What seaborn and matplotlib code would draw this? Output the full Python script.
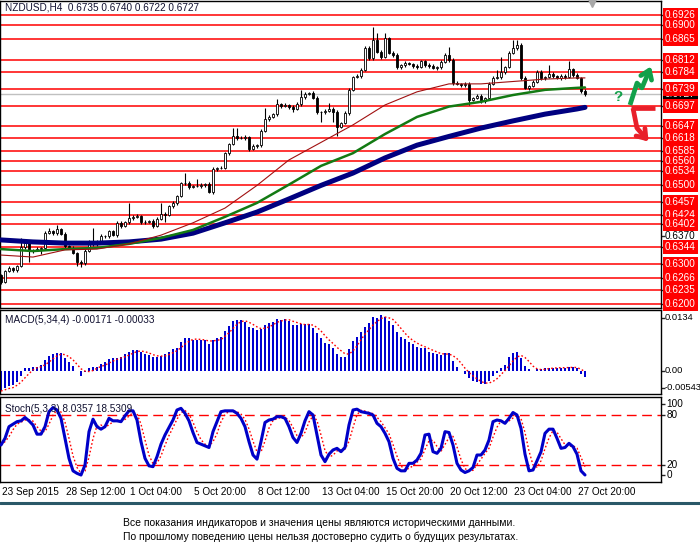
import numpy as np
import pandas as pd
import matplotlib
matplotlib.use("Agg")
import matplotlib.pyplot as plt
import matplotlib.transforms as mtransforms
from matplotlib.lines import Line2D
import seaborn as sns

sns.set_style("white")
plt.rcParams['font.family'] = ['Liberation Sans', 'DejaVu Sans']

# ---------------- data ----------------
title_text = "NZDUSD,H4  0.6735 0.6740 0.6722 0.6727"
first_open = 0.6272
closes = [
    0.6256, 0.6283, 0.6290, 0.6285, 0.6296, 0.6343, 0.6353, 0.6333, 0.6336, 0.6338,
    0.6341, 0.6378, 0.6383, 0.6378, 0.6388, 0.6376, 0.6346, 0.6341, 0.6328, 0.6306,
    0.6303, 0.6333, 0.6358, 0.6351, 0.6356, 0.6371, 0.6371, 0.6383, 0.6373, 0.6404,
    0.6396, 0.6406, 0.6416, 0.6419, 0.6421, 0.6406, 0.6406, 0.6409, 0.6396, 0.6414,
    0.6426, 0.6424, 0.6446, 0.6454, 0.6471, 0.6504, 0.6504, 0.6494, 0.6497, 0.6497,
    0.6499, 0.6502, 0.6481, 0.6539, 0.6542, 0.6542, 0.6579, 0.6602, 0.6622, 0.6617,
    0.6617, 0.6620, 0.6589, 0.6597, 0.6599, 0.6635, 0.6665, 0.6670, 0.6677, 0.6702,
    0.6697, 0.6700, 0.6695, 0.6690, 0.6702, 0.6720, 0.6728, 0.6730, 0.6718, 0.6682,
    0.6682, 0.6685, 0.6690, 0.6682, 0.6645, 0.6655, 0.6680, 0.6738, 0.6770, 0.6773,
    0.6788, 0.6843, 0.6818, 0.6863, 0.6833, 0.6821, 0.6868, 0.6831, 0.6826, 0.6795,
    0.6800, 0.6805, 0.6803, 0.6798, 0.6795, 0.6810, 0.6800, 0.6798, 0.6793, 0.6795,
    0.6808, 0.6826, 0.6813, 0.6755, 0.6753, 0.6750, 0.6753, 0.6713, 0.6718, 0.6723,
    0.6710, 0.6718, 0.6753, 0.6768, 0.6770, 0.6783, 0.6795, 0.6831, 0.6843, 0.6851,
    0.6768, 0.6743, 0.6748, 0.6758, 0.6783, 0.6768, 0.6770, 0.6778, 0.6773, 0.6768,
    0.6773, 0.6770, 0.6790, 0.6775, 0.6768, 0.6735, 0.6727,
]
# wick lengths in pips above / below the candle body
wick_up = [
    4, 3, 5, 4, 3, 22, 5, 4, 3, 4,
    3, 5, 8, 4, 10, 3, 4, 3, 4, 3,
    4, 5, 3, 32, 4, 5, 3, 4, 3, 5,
    4, 3, 37, 4, 5, 3, 4, 3, 4, 5,
    27, 4, 3, 5, 4, 3, 25, 4, 3, 17,
    4, 3, 5, 4, 3, 5, 4, 3, 20, 20,
    4, 5, 3, 4, 3, 5, 27, 4, 3, 12,
    4, 5, 3, 4, 5, 17, 4, 3, 5, 4,
    3, 4, 15, 4, 5, 3, 4, 5, 4, 5,
    4, 6, 5, 32, 17, 5, 12, 4, 5, 4,
    3, 5, 4, 3, 5, 4, 3, 5, 4, 3,
    5, 4, 20, 5, 4, 3, 5, 4, 3, 4,
    5, 3, 4, 5, 17, 37, 4, 5, 20, 12,
    4, 5, 3, 4, 5, 4, 3, 22, 4, 3,
    5, 4, 20, 4, 5, 3, 5,
]
wick_dn = [
    5, 4, 3, 5, 4, 3, 4, 27, 4, 3,
    12, 4, 3, 5, 4, 3, 5, 4, 3, 10,
    10, 4, 3, 5, 4, 3, 5, 4, 3, 4,
    5, 3, 4, 5, 3, 4, 5, 3, 4, 3,
    4, 17, 3, 4, 5, 3, 4, 5, 3, 4,
    5, 4, 3, 5, 4, 3, 4, 5, 3, 4,
    3, 4, 5, 3, 4, 5, 3, 4, 3, 4,
    5, 3, 4, 8, 3, 4, 5, 3, 4, 5,
    25, 4, 3, 25, 22, 4, 3, 5, 4, 3,
    4, 3, 5, 4, 3, 5, 4, 3, 5, 4,
    4, 5, 3, 4, 5, 3, 4, 5, 3, 4,
    5, 3, 4, 5, 3, 4, 5, 12, 4, 3,
    4, 5, 3, 4, 3, 5, 4, 3, 4, 5,
    4, 3, 5, 4, 3, 4, 5, 3, 4, 3,
    4, 5, 3, 4, 3, 4, 5,
]
current_price = 0.6727

ma_bars = [0, 8, 16, 24, 32, 40, 48, 56, 64, 72, 80, 88, 96, 104, 112, 120, 128, 136, 144, 146]
ma_fast = [0.6323, 0.6318, 0.6336, 0.6338, 0.6351, 0.6373, 0.6404, 0.6441, 0.6498, 0.6562,
           0.6606, 0.6650, 0.6700, 0.6733, 0.6753, 0.6753, 0.6759, 0.6765, 0.6768, 0.6768]
ma_mid = [0.6338, 0.6333, 0.6338, 0.6341, 0.6351, 0.6366, 0.6386, 0.6419, 0.6454, 0.6500,
          0.6547, 0.6579, 0.6627, 0.6670, 0.6696, 0.6708, 0.6725, 0.6738, 0.6743, 0.6744]
ma_slow = [0.6361, 0.6356, 0.6353, 0.6353, 0.6356, 0.6363, 0.6378, 0.6404, 0.6431, 0.6464,
           0.6498, 0.6529, 0.6567, 0.6599, 0.6621, 0.6642, 0.6660, 0.6677, 0.6690, 0.6694]

levels = [0.6926, 0.6900, 0.6865, 0.6812, 0.6784, 0.6739, 0.6697, 0.6647, 0.6618, 0.6585,
          0.6560, 0.6534, 0.6500, 0.6457, 0.6424, 0.6402, 0.6344, 0.6300, 0.6266, 0.6235, 0.6200]
axis_price_label = 0.6370

macd_title = "MACD(5,34,4) -0.00171 -0.00033"
macd_hist = [
    -0.00514, -0.00447, -0.00388, -0.00362, -0.00278, -0.00135, 0.00059, 0.00059, 0.00101, 0.00084,
    0.00143, 0.00270, 0.00371, 0.00422, 0.00438, 0.00438, 0.00329, 0.00211, 0.00118, -0.00008,
    -0.00126, -0.00025, 0.00076, 0.00093, 0.00101, 0.00160, 0.00211, 0.00295, 0.00312, 0.00329,
    0.00354, 0.00413, 0.00480, 0.00523, 0.00523, 0.00464, 0.00413, 0.00396, 0.00346, 0.00354,
    0.00379, 0.00413, 0.00480, 0.00548, 0.00582, 0.00733, 0.00826, 0.00826, 0.00784, 0.00767,
    0.00776, 0.00784, 0.00674, 0.00784, 0.00835, 0.00860, 0.01003, 0.01138, 0.01265, 0.01290,
    0.01273, 0.01222, 0.01113, 0.01071, 0.01028, 0.01045, 0.01155, 0.01197, 0.01239, 0.01307,
    0.01281, 0.01307, 0.01256, 0.01155, 0.01155, 0.01180, 0.01172, 0.01172, 0.01087, 0.00944,
    0.00818, 0.00691, 0.00666, 0.00582, 0.00422, 0.00354, 0.00354, 0.00548, 0.00750, 0.00860,
    0.00986, 0.01096, 0.01197, 0.01349, 0.01324, 0.01408, 0.01349, 0.01265, 0.01155, 0.00986,
    0.00860, 0.00792, 0.00733, 0.00666, 0.00607, 0.00582, 0.00565, 0.00480, 0.00438, 0.00413,
    0.00396, 0.00438, 0.00438, 0.00244, 0.00101, -0.00010, -0.00084, -0.00177, -0.00261, -0.00295,
    -0.00346, -0.00346, -0.00261, -0.00135, -0.00067, 0.00076, 0.00143, 0.00337, 0.00438, 0.00464,
    0.00312, 0.00118, 0.00042, -0.00008, 0.00042, 0.00042, 0.00059, 0.00076, 0.00076, 0.00076,
    0.00076, 0.00076, 0.00093, 0.00093, 0.00059, -0.00093, -0.00171,
]
macd_labels = ["0.0134", "0.00", "-0.00543"]
macd_label_vals = [0.0134, 0.0, -0.0043]

stoch_title = "Stoch(5,3,3) 8.0357 18.5309"
stoch_k = [
    44, 52, 66, 69, 72, 73, 77, 73, 68, 57,
    57, 66, 84, 89, 86, 76, 52, 28, 13, 10,
    8, 20, 60, 75, 66, 63, 66, 76, 73, 73,
    72, 79, 85, 85, 74, 48, 28, 19, 18, 30,
    45, 56, 65, 74, 86, 88, 82, 73, 59, 47,
    45, 43, 41, 60, 72, 84, 85, 85, 85, 82,
    76, 66, 48, 32, 27, 48, 71, 74, 75, 78,
    78, 76, 66, 53, 47, 58, 73, 84, 80, 56,
    32, 24, 33, 38, 40, 36, 41, 68, 86, 87,
    84, 83, 82, 80, 70, 66, 58, 48, 28, 16,
    13, 13, 22, 22, 26, 34, 56, 57, 36, 34,
    40, 60, 59, 44, 22, 14, 11, 13, 17, 32,
    32, 38, 50, 72, 74, 73, 70, 76, 83, 80,
    64, 33, 13, 14, 25, 36, 58, 63, 63, 52,
    40, 41, 46, 42, 33, 13, 8.0357,
]
stoch_levels = [20, 80]
stoch_labels = ["100", "80", "20", "0"]
stoch_label_vals = [93, 80, 20, 8]

tick_bars = [0, 16, 32, 48, 64, 80, 96, 112, 128, 144]
tick_labels = ["23 Sep 2015", "28 Sep 12:00", "1 Oct 04:00", "5 Oct 20:00", "8 Oct 12:00",
               "13 Oct 04:00", "15 Oct 20:00", "20 Oct 12:00", "23 Oct 04:00", "27 Oct 20:00"]

disclaimer = ["Все показания индикаторов и значения цены являются историческими данными.",
              "По прошлому поведению цены нельзя достоверно судить о будущих результатах."]

# ---------------- figure ----------------
W, H = 700, 552
fig = plt.figure(figsize=(W / 100, H / 100), dpi=100)
fig.patch.set_facecolor('white')


def px_axes(x0, y0, x1, y1):
    return fig.add_axes([x0 / W, 1 - y1 / H, (x1 - x0) / W, (y1 - y0) / H])


ax_p = px_axes(0, 1, 661, 308)
ax_m = px_axes(0, 310, 661, 394)
ax_s = px_axes(0, 397, 661, 482)

n = len(closes)
bars = np.arange(n)
c = np.array(closes)
o = np.concatenate([[first_open], c[:-1]])
hi = np.maximum(o, c) + np.array(wick_up) * 0.0001
lo = np.minimum(o, c) - np.array(wick_dn) * 0.0001

for ax in (ax_p, ax_m, ax_s):
    ax.set_xlim(-0.25, 165)
    ax.set_facecolor('white')
    for sp in ax.spines.values():
        sp.set_color('black')
        sp.set_linewidth(1.0)
        sp.set_visible(True)

LBL = 7.2  # font size of axis texts

# ---- price panel ----
ax_p.set_ylim(0.61900, 0.69612)
for lv in levels:
    ax_p.axhline(lv, color='#ff0000', lw=1.1, zorder=1)
ax_p.axhline(current_price, color='#c0c0c0', lw=1.0, zorder=1)

ax_p.vlines(bars, lo, hi, color='black', lw=0.8, zorder=3)
body_h = np.maximum(np.abs(c - o), 0.00005)
body_col = np.where(c >= o, 'white', 'black')
ax_p.bar(bars, body_h, bottom=np.minimum(o, c), width=0.72, color=body_col,
         edgecolor='black', linewidth=0.6, zorder=4)

sns.lineplot(x=ma_bars, y=ma_slow, ax=ax_p, color='#000080', lw=3.6, estimator=None, zorder=5)
sns.lineplot(x=ma_bars, y=ma_mid, ax=ax_p, color='#137a13', lw=1.8, estimator=None, zorder=6)
sns.lineplot(x=ma_bars, y=ma_fast, ax=ax_p, color='#a01010', lw=0.8, estimator=None, zorder=7)

ax_p.set_xlabel('')
ax_p.set_ylabel('')
ax_p.set_xticks([])
ax_p.yaxis.tick_right()
ax_p.set_yticks(levels + [axis_price_label])
ax_p.tick_params(axis='y', length=3, width=1, direction='out', labelright=False, labelleft=False)

trans_p = mtransforms.blended_transform_factory(ax_p.transAxes, ax_p.transData)
ax_p.text(1.006, axis_price_label, f"{axis_price_label:.4f}", transform=trans_p, fontsize=LBL,
          color='black', va='center', ha='left', clip_on=False)
ax_p.text(1.006, current_price, f"{current_price:.4f}", transform=trans_p, fontsize=LBL,
          color='white', va='center', ha='left', clip_on=False, zorder=9,
          bbox=dict(boxstyle='square,pad=0.2', fc='black', ec='none'))
for lv in levels:
    ax_p.text(1.006, lv, f"{lv:.4f}", transform=trans_p, fontsize=LBL, color='white',
              va='center', ha='left', clip_on=False, zorder=10,
              bbox=dict(boxstyle='square,pad=0.2', fc='#ff0000', ec='none'))

# shift marker
ax_p.plot([147.75], [0.6957], marker='v', color='#a8a8a8', markersize=6, clip_on=False, zorder=8)

# scenario arrows
green = '#12a04a'
red = '#e8202a'
ax_p.plot([157.25, 159.0, 160.25], [0.6700, 0.6755, 0.6743], color=green, lw=3.4,
          solid_capstyle='butt', zorder=11)
ax_p.annotate('', xy=(162.5, 0.6797), xytext=(160.25, 0.6743),
              arrowprops=dict(arrowstyle='->,head_length=0.6,head_width=0.42', lw=3.4,
                              color=green, shrinkA=0, shrinkB=0), zorder=11)
ax_p.text(154.3, 0.6719, '?', color=green, fontsize=11, fontweight='bold', ha='center',
          va='center', zorder=11)
ax_p.plot([157.5, 163.5], [0.6692, 0.6692], color=red, lw=3.4, solid_capstyle='butt', zorder=11)
ax_p.plot([158.0, 159.0], [0.6692, 0.6642], color=red, lw=3.4, solid_capstyle='butt', zorder=11)
ax_p.annotate('', xy=(161.9, 0.6608), xytext=(159.0, 0.6642),
              arrowprops=dict(arrowstyle='->,head_length=0.6,head_width=0.42', lw=3.4,
                              color=red, shrinkA=0, shrinkB=0), zorder=11)

fig.text(5 / W, 1 - 7.5 / H, title_text, fontsize=LBL, color='#101030', va='center', ha='left')

# ---- MACD panel ----
ax_m.set_ylim(-0.00589, 0.01535)
ax_m.bar(bars, macd_hist, width=0.72, color='#0000d0', linewidth=0, zorder=2)
macd_signal = pd.Series(macd_hist).rolling(4, min_periods=1).mean().to_numpy()
ax_m.plot(bars, macd_signal, color='#ff0000', lw=1.0, linestyle=(0, (1.2, 1.6)), zorder=3)
ax_m.set_xticks([])
ax_m.yaxis.tick_right()
ax_m.set_yticks(macd_label_vals)
ax_m.tick_params(axis='y', length=3, width=1, direction='out', labelright=False, labelleft=False)
trans_m = mtransforms.blended_transform_factory(ax_m.transAxes, ax_m.transData)
for lab, v in zip(macd_labels, macd_label_vals):
    ax_m.text(1.005, v, lab, transform=trans_m, fontsize=6.7, color='black', va='center',
              ha='left', clip_on=False)
ax_m.text(0.007, 0.88, macd_title, transform=ax_m.transAxes, fontsize=LBL, color='#101030',
          va='center', ha='left')

# ---- Stochastic panel ----
ax_s.set_ylim(-0.4, 101.6)
stoch_d = pd.Series(stoch_k).rolling(3, min_periods=1).mean().to_numpy()
for lv in stoch_levels:
    ax_s.axhline(lv, color='#ff0000', lw=1.0, linestyle=(0, (7, 4)), zorder=1)
ax_s.plot(bars, stoch_d, color='#ff0000', lw=1.0, linestyle=(0, (1.2, 1.6)), zorder=2)
sns.lineplot(x=bars, y=stoch_k, ax=ax_s, color='#0000c8', lw=2.2, estimator=None, zorder=3)
ax_s.set_xticks(tick_bars)
ax_s.tick_params(axis='x', length=4, width=1, direction='out', labelbottom=False)
ax_s.yaxis.tick_right()
ax_s.set_yticks(stoch_label_vals)
ax_s.tick_params(axis='y', length=3, width=1, direction='out', labelright=False, labelleft=False)
ax_s.set_xlabel('')
ax_s.set_ylabel('')
trans_s = mtransforms.blended_transform_factory(ax_s.transAxes, ax_s.transData)
for lab, v in zip(stoch_labels, stoch_label_vals):
    ax_s.text(1.008, v, lab, transform=trans_s, fontsize=LBL, color='black', va='center',
              ha='left', clip_on=False)
ax_s.text(0.007, 0.86, stoch_title, transform=ax_s.transAxes, fontsize=LBL, color='#101030',
          va='center', ha='left')
trans_x = mtransforms.blended_transform_factory(ax_s.transData, ax_s.transAxes)
for b, lab in zip(tick_bars, tick_labels):
    ax_s.text(b + 0.2, -0.12, lab, transform=trans_x, fontsize=LBL, color='black', va='center',
              ha='left', clip_on=False)

# separator and disclaimer
fig.add_artist(Line2D([0, 1], [1 - 503 / H, 1 - 503 / H], color='#2a5868', lw=2.2))
fig.text(123 / W, 1 - 522.5 / H, disclaimer[0], fontsize=7.5, color='black', va='center', ha='left')
fig.text(123 / W, 1 - 536.5 / H, disclaimer[1], fontsize=7.5, color='black', va='center', ha='left')

fig.savefig('out.png', dpi=100, facecolor='white')
